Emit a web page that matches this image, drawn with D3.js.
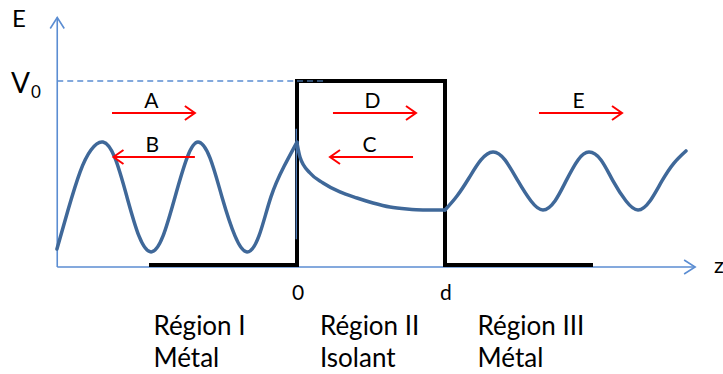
<!DOCTYPE html>
<html>
<head>
<meta charset="utf-8">
<script src="https://cdn.jsdelivr.net/npm/d3@7"></script>
<style>
  body { margin: 0; background: #fff; }
  text { font-family: Lato, "Open Sans", sans-serif; fill: #000; }
</style>
</head>
<body>
<svg id="chart" width="723" height="374"></svg>
<script>
// ---- data (z in units of d, energy in units of V0)
let barrierZ = [-1, 0, 0, 1, 1, 2];
let barrierV = [0, 0, 1, 1, 0, 0];

// region I : incident + reflected wave
let waveIZ = [-1.622, -1.547, -1.466, -1.392, -1.311, -1.23, -1.149, -1.068, -0.986, -0.905, -0.824,
    -0.743, -0.669, -0.588, -0.507, -0.419, -0.338, -0.257, -0.176, -0.088, 0];
let waveIE = [0.087, 0.299, 0.505, 0.625, 0.668, 0.582, 0.37, 0.158, 0.071, 0.158, 0.37,
    0.582, 0.668, 0.582, 0.37, 0.158, 0.071, 0.158, 0.37, 0.535, 0.668];

// region II : evanescent wave
let waveIIZ = [0, 0.02, 0.088, 0.176, 0.29, 0.405, 0.514, 0.628, 0.743, 0.851, 1.0];
let waveIIE = [0.663, 0.587, 0.5, 0.446, 0.397, 0.364, 0.337, 0.315, 0.304, 0.299, 0.299];

// region III : transmitted wave
let waveIIIZ = [1.0, 1.081, 1.162, 1.243, 1.324, 1.405, 1.493, 1.581, 1.662, 1.743, 1.818,
    1.899, 1.973, 2.054, 2.135, 2.223, 2.304, 2.385, 2.466, 2.547, 2.628];
let waveIIIE = [0.299, 0.375, 0.473, 0.571, 0.614, 0.571, 0.457, 0.348, 0.299, 0.348, 0.457,
    0.571, 0.614, 0.571, 0.457, 0.348, 0.299, 0.348, 0.457, 0.554, 0.62];

let arrowLabels = ["A", "B", "D", "C", "E"];
let arrowFrom = [-1.25, -0.69, 0.243, 0.784, 1.635];
let arrowTo = [-0.69, -1.24, 0.804, 0.223, 2.196];
let arrowE = [0.826, 0.587, 0.826, 0.587, 0.826];

let regionNames = ["Région I", "Région II", "Région III"];
let regionMaterials = ["Métal", "Isolant", "Métal"];
let regionStart = [-0.97, 0.155, 1.22];

let zTicks = [0, 1];
let zTickLabels = ["0", "d"];

// ---- scales
let svg = d3.select("#chart");
let x = d3.scaleLinear().domain([0, 1]).range([297, 445]);
let y = d3.scaleLinear().domain([0, 1]).range([265, 81]);

let axisColor = "#5b8dd2";
let waveColor = "#3f6899";

let zMin = -1.62, zMax = 2.69, eMax = 1.345;
let axisY = y(0) + 2;

// axes with open arrow heads
let axes = svg.append("g").attr("stroke", axisColor).attr("stroke-width", 1.6).attr("fill", "none");
axes.append("line").attr("x1", x(zMin)).attr("x2", x(zMin)).attr("y1", axisY).attr("y2", y(eMax));
axes.append("path").attr("d", `M${x(zMin) - 7},${y(eMax) + 11}L${x(zMin)},${y(eMax)}L${x(zMin) + 7},${y(eMax) + 11}`);
axes.append("line").attr("x1", x(zMin)).attr("x2", x(zMax)).attr("y1", axisY).attr("y2", axisY);
axes.append("path").attr("d", `M${x(zMax) - 11},${axisY - 7}L${x(zMax)},${axisY}L${x(zMax) - 11},${axisY + 7}`);

// V0 dashed level
svg.append("line").attr("x1", x(zMin)).attr("x2", x(0)).attr("y1", y(1)).attr("y2", y(1))
    .attr("stroke", axisColor).attr("stroke-width", 1.4).attr("stroke-dasharray", "6,4");

// potential barrier
let barrier = barrierZ.map((z, i) => [x(z), y(barrierV[i])]);
svg.append("path").attr("d", d3.line()(barrier))
    .attr("fill", "none").attr("stroke", "#000").attr("stroke-width", 4).attr("stroke-linejoin", "miter");

// dashes continuing on top of the barrier
svg.append("line").attr("x1", x(0)).attr("x2", x(0.19)).attr("y1", y(1)).attr("y2", y(1))
    .attr("stroke", waveColor).attr("stroke-width", 1.4).attr("stroke-dasharray", "6,4");
// thin blue line at interface
svg.append("line").attr("x1", x(-0.005)).attr("x2", x(-0.005)).attr("y1", y(0.74)).attr("y2", y(0.14))
    .attr("stroke", axisColor).attr("stroke-width", 1.2);

// wave function
function drawWave(zs, es, curve) {
    let pts = zs.map((z, i) => [x(z), y(es[i])]);
    svg.append("path").attr("d", d3.line().curve(curve)(pts))
        .attr("fill", "none").attr("stroke", waveColor).attr("stroke-width", 3.5).attr("stroke-linecap", "round");
}
drawWave(waveIZ, waveIE, d3.curveNatural);
drawWave(waveIIZ, waveIIE, d3.curveMonotoneX);
drawWave(waveIIIZ, waveIIIE, d3.curveNatural);

// red arrows
arrowLabels.forEach((lab, i) => {
    let x0 = x(arrowFrom[i]), x1 = x(arrowTo[i]), yy = y(arrowE[i]);
    let dir = x1 > x0 ? 1 : -1;
    let g = svg.append("g").attr("stroke", "#ff0000").attr("stroke-width", 2).attr("fill", "none");
    g.append("line").attr("x1", x0).attr("x2", x1).attr("y1", yy).attr("y2", yy);
    g.append("path").attr("d", `M${x1 - dir * 10},${yy - 7}L${x1},${yy}L${x1 - dir * 10},${yy + 7}`);
    svg.append("text").attr("x", (x0 + x1) / 2 - 2).attr("y", yy - 5)
        .attr("text-anchor", "middle").style("font-size", "21px").text(lab);
});

// axis labels
svg.append("text").attr("x", 12).attr("y", 27).style("font-size", "24px").text("E");
svg.append("text").attr("x", 11).attr("y", 93).style("font-size", "28px").text("V");
svg.append("text").attr("x", 31).attr("y", 98).style("font-size", "17px").text("0");
svg.append("text").attr("x", 714).attr("y", 273).style("font-size", "22px").text("z");

svg.selectAll(".ztick").data(zTicks).enter().append("text").attr("class", "ztick")
    .attr("x", d => x(d) + 1).attr("y", 300).attr("text-anchor", "middle")
    .style("font-size", "21px").text((d, i) => zTickLabels[i]);

// region labels
regionNames.forEach((name, i) => {
    svg.append("text").attr("x", x(regionStart[i])).attr("y", 335).style("font-size", "26px").text(name);
    svg.append("text").attr("x", x(regionStart[i])).attr("y", 367).style("font-size", "26px").text(regionMaterials[i]);
});
</script>
</body>
</html>
